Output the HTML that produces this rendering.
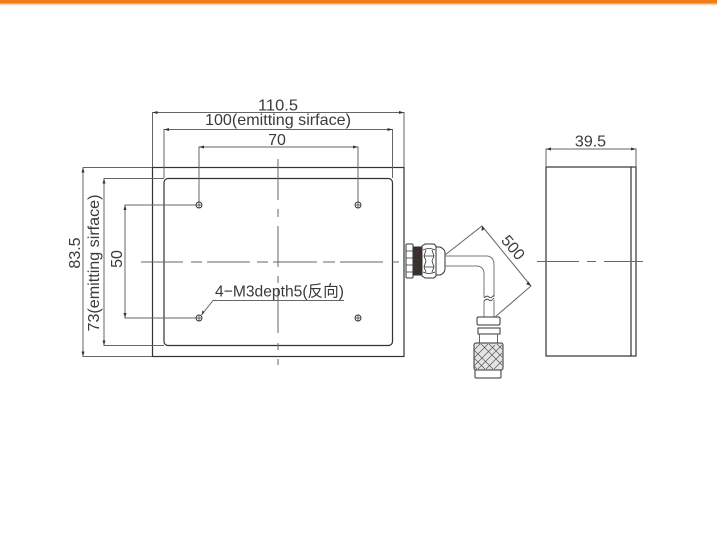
<!DOCTYPE html>
<html><head><meta charset="utf-8"><style>
html,body{margin:0;padding:0;background:#fff}
svg{display:block}
text{font-family:"Liberation Sans","Noto Sans CJK SC",sans-serif;fill:#3a3a3a;font-size:16px}
</style></head><body>
<svg width="717" height="549" viewBox="0 0 717 549" xmlns="http://www.w3.org/2000/svg">
<rect x="0" y="0" width="717" height="3.500" fill="#f47c14"/>
<rect x="0" y="3.500" width="717" height="1" fill="#f8c9a0"/>
<rect x="0" y="4.500" width="717" height="1" fill="#e8e8e8"/>
<g fill="none" stroke="#333" stroke-width="1.200">
<rect x="152.500" y="167.500" width="251.500" height="189"/>
<rect x="164" y="178.500" width="228.500" height="167" rx="4"/>
<rect x="546" y="167" width="90" height="189"/>
<line x1="631" y1="167" x2="631" y2="356"/>
</g>
<g fill="none" stroke="#666" stroke-width="1">
<path d="M152.500 167V112.500H404V167"/>
<path d="M164 178V129.500H392.500V178"/>
<path d="M199 205V147H358V205"/>
<path d="M152 167.500H83V356.500H152"/>
<path d="M164 178.500H104V345.500H164"/>
<path d="M199 205H125V318H199"/>
<path d="M546 167V149H636V167"/>
<path d="M278 159V200M278 209V217M278 226V267M278 276V283M278 288V333M278 343V350M278 359V365"/>
<path d="M141 262H183M191 262H202M207 262H250M257 262H268M273 262H317M323 262H335M340 262H383M392 262H399"/>
<path d="M537 261.500H579M587 261.500H596M604 261.500H643"/>
<path d="M201.500 315L213 300.500H344"/>
</g>
<g fill="#333">
<path d="M152.500 112.500l5-1.500v3z"/><path d="M404 112.500l-5-1.500v3z"/>
<path d="M164 129.500l5-1.500v3z"/><path d="M392.500 129.500l-5-1.500v3z"/>
<path d="M199 147l5-1.500v3z"/><path d="M358 147l-5-1.500v3z"/>
<path d="M83 167.500l-1.500 5h3z"/><path d="M83 356.500l-1.500-5h3z"/>
<path d="M104 178.500l-1.500 5h3z"/><path d="M104 345.500l-1.500-5h3z"/>
<path d="M125 205l-1.500 5h3z"/><path d="M125 318l-1.500-5h3z"/>
<path d="M546 149l5-1.500v3z"/><path d="M636 149l-5-1.500v3z"/>
<path d="M201.500 315l1-4.500 2 1.500z"/>
</g>
<g fill="#fff" stroke="#333" stroke-width="0.900">
<circle cx="199" cy="205" r="3"/><circle cx="358" cy="205" r="3"/>
<circle cx="199" cy="318" r="3"/><circle cx="358" cy="318" r="3"/>
</g>
<g stroke="#333" stroke-width="0.700">
<path d="M196 205h6M199 202v6M355 205h6M358 202v6M196 318h6M199 315v6M355 318h6M358 315v6"/>
</g>
<!-- connector -->
<g fill="#fff" stroke="#333" stroke-width="1">
<rect x="406" y="244" width="7" height="34" rx="1"/>
<path d="M406 251h7M406 258h7M406 265h7M406 272h7" fill="none" stroke-width="0.800"/>
<rect x="413" y="247" width="9" height="28" fill="#3a3030"/>
<path d="M422 246l3-2h9l2 2v30l-2 2h-9l-3-2z"/>
<path d="M436 247h4q5 2 5 6v16q0 4-5 6h-4z"/>
<path d="M423 250q6-3 12 0M423 272q6 3 12 0M426 250l-2 6 2 5-2 6 2 5M432 250l2 6-2 5 2 6-2 5M424 256h10M424 267h10" fill="none" stroke-width="0.800"/>
<path d="M445 256H486Q494 256 494 265V297" fill="none" stroke="#777"/>
<path d="M445 266H476Q484 266 484 274V297" fill="none" stroke="#777"/>
<path d="M484 298q3-3 5-1t5-2" fill="none" stroke="#555"/>
<path d="M484 301q3-3 5-1t5-2" fill="none" stroke="#555"/>
<path d="M484 301V317M494 300V317" fill="none" stroke="#777"/>
<rect x="477" y="317" width="23" height="8" rx="1.500"/>
<rect x="478" y="328" width="22" height="6"/>
<path d="M479.500 334V343M497.500 334V343" fill="none" stroke="#666"/>
<rect x="475" y="370" width="26" height="8" rx="1"/>
<rect x="474" y="343" width="29" height="27" rx="2" fill="#e4e4e4"/>
</g>
<g stroke="#555" stroke-width="0.700" fill="none">
<path d="M474 350l6-6M474 358l14-14M474 366l21-21M478 369l24-24M486 369l16-16M494 369l8-8"/>
<path d="M474 350l19 19M474 358l11 11M474 366l3 3M481 344l21 21M489 344l13 13M497 344l5 5"/>
</g>
<g fill="none" stroke="#666" stroke-width="1">
<path d="M445 255L482 226L531 286L495 317"/>
</g>
<g fill="#333"><path d="M482 226l-.5 5 3-2zM531 286l-5-2 2.500-2.500z"/></g>
<text x="278" y="110.500" text-anchor="middle" textLength="40" lengthAdjust="spacingAndGlyphs">110.5</text>
<text x="278" y="125" text-anchor="middle" textLength="146" lengthAdjust="spacingAndGlyphs">100(emitting sirface)</text>
<text x="277" y="145" text-anchor="middle">70</text>
<text x="590.500" y="146.500" text-anchor="middle">39.5</text>
<text x="215" y="296.500" textLength="129" lengthAdjust="spacingAndGlyphs">4−M3depth5(反向)</text>
<text transform="translate(80 253) rotate(-90)" text-anchor="middle">83.5</text>
<text transform="translate(99 263) rotate(-90)" text-anchor="middle" textLength="137" lengthAdjust="spacingAndGlyphs">73(emitting sirface)</text>
<text transform="translate(122 259) rotate(-90)" text-anchor="middle">50</text>
<text transform="translate(509 251) rotate(50)" text-anchor="middle">500</text>
</svg>
</body></html>
